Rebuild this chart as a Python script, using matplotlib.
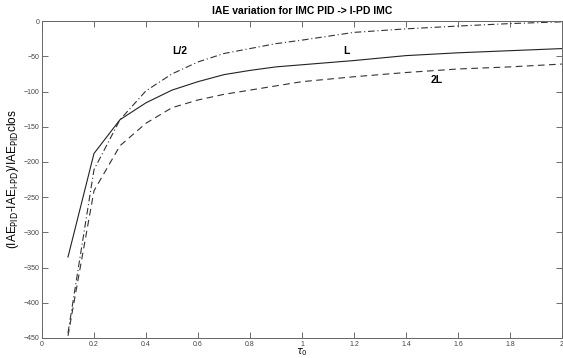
import matplotlib
matplotlib.use("Agg")
import matplotlib.pyplot as plt

plt.rcParams['font.family'] = ['Liberation Sans', 'DejaVu Sans']

# tau_0 values
tau = [0.1, 0.2, 0.3, 0.4, 0.5, 0.6, 0.7, 0.8, 0.9, 1.0, 1.2, 1.4, 1.6, 1.8, 2.0]

# L/2 (dash-dot)
half_L = [-443, -211, -140, -99, -75, -58, -46, -39, -32, -27, -16, -11, -7, -3.5, -1]
# L (solid)
full_L = [-335, -188, -140, -116, -98, -86, -76, -70, -65, -62, -56, -49, -45, -42, -39]
# 2L (dashed)
double_L = [-447, -241, -177, -145, -123, -112, -104, -98, -92, -86, -79, -73, -68, -65, -61]

xticks = [0, 0.2, 0.4, 0.6, 0.8, 1, 1.2, 1.4, 1.6, 1.8, 2]
xticklabels = ['0', '0.2', '0.4', '0.6', '0.8', '1', '1.2', '1.4', '1.6', '1.8', '2']
yticks = [0, -50, -100, -150, -200, -250, -300, -350, -400, -450]

fig = plt.figure(figsize=(5.63, 3.58), dpi=100)
ax = fig.add_axes([0.0746, 0.056, 0.9234, 0.885])

ax.plot(tau, half_L, color='#333333', linestyle='-.', linewidth=0.8, dashes=(6, 2.5, 1, 2.5))
ax.plot(tau, full_L, color='#222222', linestyle='-', linewidth=0.8)
ax.plot(tau, double_L, color='#333333', linestyle='--', linewidth=0.8, dashes=(6, 4))

ax.text(0.53, -42, 'L/2', fontsize=7.5, fontweight='bold', ha='center', va='center')
ax.text(1.17, -42, 'L', fontsize=7.5, fontweight='bold', ha='center', va='center')
ax.text(1.52, -84, '2L', fontsize=7.5, fontweight='bold', ha='center', va='center')

ax.set_xlim(0, 2)
ax.set_ylim(-450, 0)
ax.set_xticks(xticks)
ax.set_xticklabels(xticklabels)
ax.set_yticks(yticks)
ax.tick_params(direction='in', top=True, right=True, labelsize=5,
               labelcolor='#444444', length=4, width=0.6, color='#555555', pad=2)
for s in ax.spines.values():
    s.set_linewidth(0.7)
    s.set_color('#666666')

ax.set_title('IAE variation for IMC PID -> I-PD IMC', fontsize=7.5, fontweight='bold', pad=5)
ax.set_xlabel(r'$\tau_0$', fontsize=7, labelpad=-1)
ax.set_ylabel(r'(IAE$_{\rm PID}$-IAE$_{\rm I\text{-}PD}$)/IAE$_{\rm PID}$clos', fontsize=8.5, labelpad=2)

fig.savefig('out.png', dpi=100)
